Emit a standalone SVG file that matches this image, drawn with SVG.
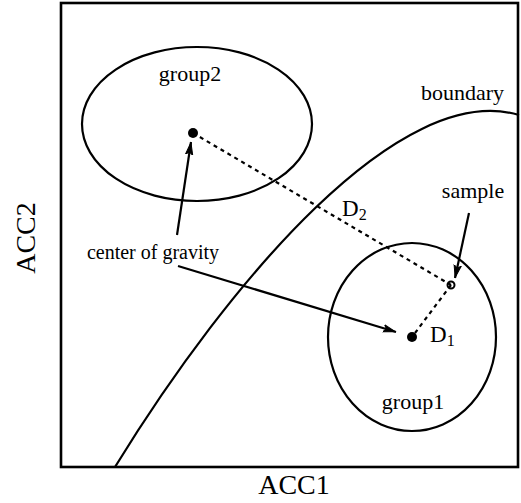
<svg xmlns="http://www.w3.org/2000/svg" width="521" height="503" viewBox="0 0 521 503">
<style>
text{font-family:"Liberation Serif","Times New Roman",serif;fill:#000}
.ln{fill:none;stroke:#000;stroke-width:2.2}
.ds{fill:none;stroke:#000;stroke-width:2.2;stroke-dasharray:4 4}
.lb{font-size:22px}
.ax{font-size:28px;text-anchor:middle}
</style>
<defs>
<marker id="ah" viewBox="0 0 13 9" refX="13" refY="4.5" markerWidth="13" markerHeight="9" markerUnits="userSpaceOnUse" orient="auto">
<path d="M0,0.8 L12.5,4.5 L0,8.2 L3,4.5 Z" fill="#000" stroke="#000" stroke-width="1"/>
</marker>
</defs>
<rect x="61" y="3" width="457" height="464" fill="#fff" stroke="#000" stroke-width="2.6"/>
<g id="boundary">
<path class="ln" d="M115,467 C230,280 400,80 519,115"/>
<text class="lb" x="421" y="100">boundary</text>
</g>
<g id="group2">
<ellipse class="ln" cx="197" cy="124" rx="115" ry="77"/>
<text class="lb" x="190" y="81" text-anchor="middle">group2</text>
<circle cx="193" cy="133" r="5" fill="#000"/>
</g>
<g id="group1">
<ellipse class="ln" cx="412" cy="337" rx="84" ry="94"/>
<text class="lb" x="413" y="409" text-anchor="middle">group1</text>
<circle cx="412" cy="337" r="5" fill="#000"/>
</g>
<g id="sample">
<circle cx="451" cy="285" r="3.5" fill="#fff" stroke="#000" stroke-width="2"/>
<text class="lb" x="473" y="198" text-anchor="middle">sample</text>
</g>
<g id="center">
<text x="153" y="259" font-size="20" text-anchor="middle">center of gravity</text>
</g>
<g id="connectors">
<path class="ds" d="M193,133 L451,285"/>
<path class="ds" d="M451,285 L412,337"/>
<path class="ln" d="M177,235 L191,142" marker-end="url(#ah)"/>
<path class="ln" d="M178,266 L396,332" marker-end="url(#ah)"/>
<path class="ln" d="M469,213 L455,278" marker-end="url(#ah)"/>
</g>
<text x="342" y="216" font-size="23">D<tspan font-size="16" dy="4">2</tspan></text>
<text x="430" y="342" font-size="23">D<tspan font-size="16" dy="4">1</tspan></text>
<text class="ax" x="294" y="494">ACC1</text>
<text class="ax" transform="translate(35,238) rotate(-90)">ACC2</text>
</svg>
